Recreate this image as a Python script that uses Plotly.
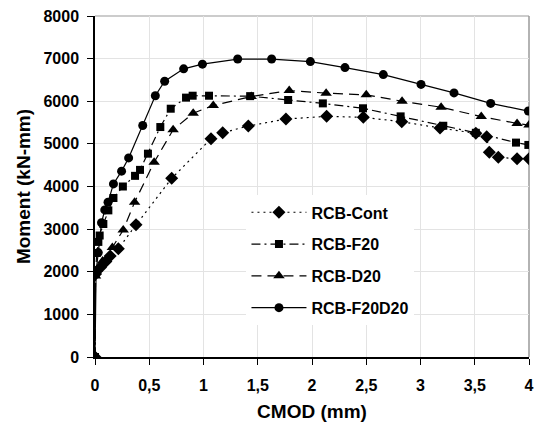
import plotly.graph_objects as go

# ---- data (CMOD in mm, Moment in kN-mm) ----
cont_x = [0, 0.005, 0.05, 0.10, 0.14, 0.215, 0.378, 0.707, 1.069, 1.177, 1.413, 1.76, 2.135, 2.473, 2.827, 3.18, 3.51, 3.61, 3.634, 3.717, 3.89, 4.0]
cont_y = [0, 1950, 2100, 2240, 2370, 2540, 3100, 4192, 5121, 5262, 5419, 5583, 5646, 5623, 5520, 5372, 5247, 5168, 4802, 4684, 4652, 4652]

f20_x = [0, 0.005, 0.016, 0.031, 0.043, 0.077, 0.123, 0.17, 0.257, 0.369, 0.415, 0.488, 0.602, 0.698, 0.839, 0.90, 1.051, 1.43, 1.78, 2.10, 2.47, 2.817, 3.21, 3.51, 3.88, 3.994]
f20_y = [0, 1950, 2440, 2700, 2850, 3120, 3440, 3730, 4000, 4250, 4390, 4770, 5395, 5825, 6085, 6130, 6130, 6120, 6030, 5950, 5835, 5645, 5425, 5260, 5030, 4975]

d20_x = [0, 0.005, 0.02, 0.07, 0.16, 0.26, 0.365, 0.545, 0.72, 0.905, 1.09, 1.44, 1.79, 2.13, 2.50, 2.83, 3.19, 3.56, 3.89, 4.0]
d20_y = [0, 1900, 2050, 2250, 2570, 2980, 3630, 4570, 5330, 5720, 5900, 6110, 6250, 6190, 6150, 6000, 5860, 5640, 5480, 5440]

f20d20_x = [0, 0.01, 0.03, 0.06, 0.09, 0.12, 0.17, 0.245, 0.31, 0.44, 0.556, 0.642, 0.817, 0.99, 1.315, 1.628, 1.985, 2.304, 2.657, 3.005, 3.309, 3.647, 3.994]
f20d20_y = [0, 2000, 2450, 3150, 3450, 3630, 4060, 4360, 4670, 5430, 6130, 6470, 6760, 6870, 6990, 6990, 6930, 6790, 6625, 6395, 6195, 5950, 5770]

x_tickvals = [0, 0.5, 1, 1.5, 2, 2.5, 3, 3.5, 4]
x_ticktext = ["0", "0,5", "1", "1,5", "2", "2,5", "3", "3,5", "4"]
y_tickvals = [0, 1000, 2000, 3000, 4000, 5000, 6000, 7000, 8000]

series = [
    ("RCB-Cont", cont_x, cont_y, "diamond", 10, "2px,4px"),
    ("RCB-F20", f20_x, f20_y, "square", 8, "9px,4px,2px,4px"),
    ("RCB-D20", d20_x, d20_y, "triangle-up", 10, "10px,6px"),
    ("RCB-F20D20", f20d20_x, f20d20_y, "circle", 9, "solid"),
]

FONT = "Arial, Liberation Sans, sans-serif"

fig = go.Figure()
for i, (name, xs, ys, sym, sz, dash) in enumerate(series):
    fig.add_trace(go.Scatter(
        x=xs, y=ys, name=name, mode="lines+markers",
        line=dict(color="black", width=1.2, dash=dash),
        marker=dict(symbol=sym, size=sz, color="black"),
        legendgroup=f"g{i}",
    ))

fig.update_layout(
    width=540, height=434,
    margin=dict(l=95, r=11, t=16, b=77),
    paper_bgcolor="white", plot_bgcolor="white",
    font=dict(family=FONT, size=13, color="black"),
    showlegend=True,
    legend=dict(
        x=0.349, y=0.474, xanchor="left", yanchor="top",
        bgcolor="white", borderwidth=0,
        font=dict(family=FONT, size=16, color="black", weight="bold"),
        traceorder="grouped", tracegroupgap=8,
        itemwidth=55,
    ),
    shapes=[
        dict(type="line", xref="paper", yref="paper", x0=0, x1=1, y0=1, y1=1,
             line=dict(color="#9a9a9a", width=1.2), layer="below"),
        dict(type="line", xref="paper", yref="paper", x0=1, x1=1, y0=0, y1=1,
             line=dict(color="#9a9a9a", width=1.5), layer="below"),
    ],
)

fig.update_xaxes(
    range=[0, 4], tickvals=x_tickvals, ticktext=x_ticktext,
    showgrid=True, gridcolor="#e3e3e3", gridwidth=1,
    showline=True, linecolor="black", linewidth=1.5,
    ticks="outside", ticklen=6, tickcolor="black", tickwidth=1.2,
    tickfont=dict(family=FONT, size=16, color="black", weight="bold"),
    ticklabelstandoff=7,
    zeroline=False, automargin=False,
    title=dict(text="CMOD (mm)", font=dict(family=FONT, size=19, color="black", weight="bold"), standoff=12),
)
fig.update_yaxes(
    range=[0, 8000], tickvals=y_tickvals,
    showgrid=True, gridcolor="#e3e3e3", gridwidth=1,
    showline=True, linecolor="black", linewidth=1.5,
    ticks="outside", ticklen=6, tickcolor="black", tickwidth=1.2,
    tickfont=dict(family=FONT, size=16, color="black", weight="bold"),
    ticklabelstandoff=5,
    zeroline=False, automargin=False,
    title=dict(text="Moment (kN-mm)", font=dict(family=FONT, size=19, color="black", weight="bold"), standoff=8),
)

fig.write_html("out.html", config={"displayModeBar": False},
               post_script="document.body.style.margin='0';document.body.style.padding='0';")
